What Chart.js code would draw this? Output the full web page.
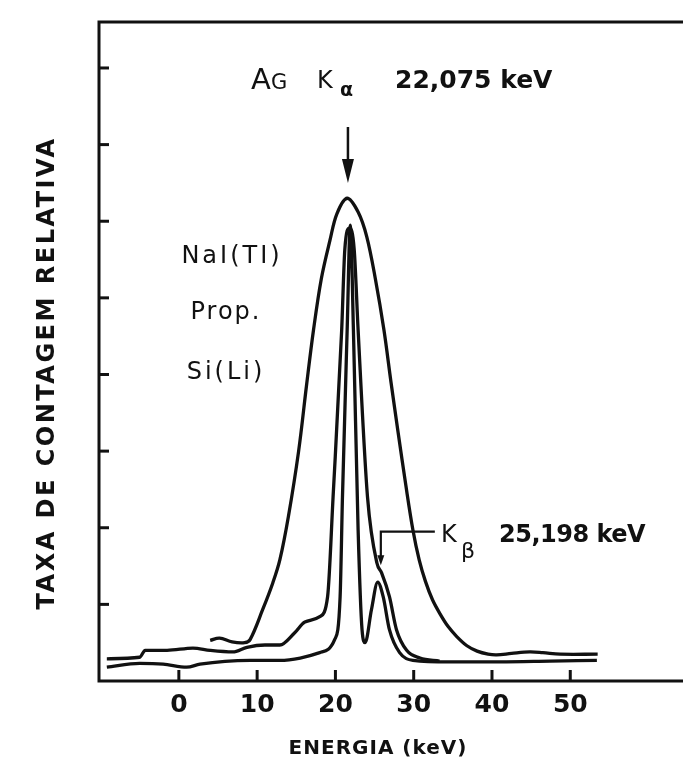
<!DOCTYPE html>
<html>
<head>
<meta charset="utf-8">
<script src="https://cdn.jsdelivr.net/npm/chart.js@4.4.1/dist/chart.umd.min.js"></script>
<style>
    body { margin: 0; background: #fff; }
    #wrap { width: 683px; height: 776px; }
</style>
</head>
<body>
<div id="wrap"><canvas id="spectrum" width="683" height="776"></canvas></div>
<script>
// energies in keV, counts in tick units (relative)
var nai_energy = [4.0, 5.2, 6.8, 8.4, 9.1, 10.7, 12.0, 12.9, 14.0, 15.3, 16.3, 17.2, 18.2, 19.3, 20.2, 21.5, 22.9, 24.0, 25.1, 26.2, 27.1, 28.0, 29.0, 29.9, 30.7, 31.5, 32.4, 33.4, 34.4, 35.5, 36.8, 38.1, 39.5, 40.6, 42.5, 44.8, 46.5, 48.7, 53.5];
var nai_counts = [0.53, 0.56, 0.51, 0.50, 0.54, 0.93, 1.28, 1.58, 2.15, 3.00, 3.85, 4.58, 5.25, 5.75, 6.10, 6.30, 6.12, 5.80, 5.25, 4.58, 3.90, 3.25, 2.55, 1.97, 1.58, 1.30, 1.06, 0.87, 0.71, 0.58, 0.46, 0.39, 0.35, 0.34, 0.36, 0.38, 0.37, 0.35, 0.35];

var prop_energy = [-9.2, -5.0, -4.3, -1.5, 1.8, 4.0, 6.9, 8.7, 11.0, 12.9, 14.8, 16.1, 18.0, 19.0, 19.7, 20.8, 21.2, 21.8, 22.4, 22.9, 24.1, 25.3, 25.9, 26.9, 27.8, 29.1, 30.8, 33.3];
var prop_counts = [0.29, 0.31, 0.40, 0.40, 0.43, 0.40, 0.38, 0.44, 0.47, 0.47, 0.63, 0.77, 0.84, 1.10, 2.40, 4.58, 5.63, 5.91, 5.63, 4.58, 2.40, 1.54, 1.41, 1.10, 0.67, 0.40, 0.30, 0.26];

var sili_energy = [-9.2, -5.0, -2.0, 1.0, 2.7, 9.1, 12.9, 15.5, 18.0, 19.9, 20.6, 20.9, 21.5, 21.9, 22.3, 22.9, 23.4, 23.8, 24.6, 25.4, 26.1, 26.9, 28.2, 29.9, 34.6, 41.0, 47.4, 53.4];
var sili_counts = [0.18, 0.23, 0.22, 0.18, 0.22, 0.27, 0.27, 0.30, 0.37, 0.54, 1.10, 2.40, 4.58, 5.95, 4.58, 1.97, 0.67, 0.50, 0.93, 1.29, 1.10, 0.67, 0.37, 0.27, 0.25, 0.25, 0.26, 0.27];

var x_ticks = [0, 10, 20, 30, 40, 50];
var y_ticks = [1, 2, 3, 4, 5, 6, 7, 8];

var ink = "#111";

function to_points(xs, ys) {
    return xs.map((x, i) => ({ x: x, y: ys[i] }));
}

function curve(label, xs, ys, smooth) {
    let ds = {
        label: label,
        data: to_points(xs, ys),
        borderColor: ink,
        borderWidth: 3.3,
        pointRadius: 0,
        fill: false
    };
    if (smooth) {
        ds.tension = 0.35;
    } else {
        ds.cubicInterpolationMode = "monotone";
    }
    return ds;
}

function stroke_line(ctx, x1, y1, x2, y2) {
    ctx.beginPath();
    ctx.moveTo(x1, y1);
    ctx.lineTo(x2, y2);
    ctx.stroke();
}

function text(ctx, str, x, y, font, align, spacing) {
    ctx.font = font;
    ctx.textAlign = align || "left";
    ctx.letterSpacing = spacing || "0px";
    ctx.fillText(str, x, y);
}

// frame, inward ticks, labels and notes
const decorations = {
    id: "decorations",
    afterDraw(chart) {
        const ctx = chart.ctx;
        const a = chart.chartArea;
        const xs = chart.scales.x;
        const ys = chart.scales.y;
        ctx.save();
        ctx.strokeStyle = ink;
        ctx.fillStyle = ink;
        ctx.lineWidth = 3;
        ctx.lineCap = "square";

        ctx.beginPath();
        ctx.moveTo(a.right, a.top);
        ctx.lineTo(a.left, a.top);
        ctx.lineTo(a.left, a.bottom);
        ctx.lineTo(a.right, a.bottom);
        ctx.stroke();

        ctx.lineCap = "butt";
        x_ticks.forEach(t => {
            let px = xs.getPixelForValue(t);
            stroke_line(ctx, px, a.bottom, px, a.bottom - 11);
        });
        y_ticks.forEach(t => {
            let py = ys.getPixelForValue(t);
            stroke_line(ctx, a.left, py, a.left + 10, py);
        });

        ctx.textBaseline = "middle";
        x_ticks.forEach(t => {
            text(ctx, String(t), xs.getPixelForValue(t), 705, "bold 25px 'DejaVu Sans'", "center");
        });
        text(ctx, "ENERGIA (keV)", 378, 749, "bold 20px 'DejaVu Sans'", "center", "1px");

        ctx.save();
        ctx.translate(48, 373);
        ctx.rotate(-Math.PI / 2);
        text(ctx, "TAXA DE CONTAGEM RELATIVA", 0, 0, "bold 24px 'DejaVu Sans'", "center", "2.5px");
        ctx.restore();

        // K alpha note
        ctx.textBaseline = "alphabetic";
        text(ctx, "A", 251, 89, "29px 'DejaVu Sans'");
        text(ctx, "G", 271, 89, "21px 'DejaVu Sans'");
        text(ctx, "K", 317, 88, "24px 'DejaVu Sans'");
        text(ctx, "α", 340, 96, "bold 19px 'DejaVu Sans'");
        text(ctx, "22,075 keV", 395, 88, "bold 25px 'DejaVu Sans'", "left", "0px");

        let ax = xs.getPixelForValue(21.6);
        let top = ys.getPixelForValue(7.23);
        let tip = ys.getPixelForValue(6.5);
        ctx.lineWidth = 2.5;
        stroke_line(ctx, ax, top, ax, tip - 14);
        ctx.beginPath();
        ctx.moveTo(ax - 6, tip - 24);
        ctx.lineTo(ax + 6, tip - 24);
        ctx.lineTo(ax, tip);
        ctx.closePath();
        ctx.fill();

        // detector names
        ctx.textBaseline = "middle";
        text(ctx, "NaI(TI)", 232, 257, "24px 'DejaVu Sans'", "center", "3px");
        text(ctx, "Prop.", 226, 313, "24px 'DejaVu Sans'", "center", "2px");
        text(ctx, "Si(Li)", 226, 373, "24px 'DejaVu Sans'", "center", "3px");

        // K beta note
        let bx = xs.getPixelForValue(25.8);
        let by = ys.getPixelForValue(1.95);
        let bt = ys.getPixelForValue(1.51);
        let ex = xs.getPixelForValue(32.7);
        ctx.lineWidth = 2.2;
        ctx.beginPath();
        ctx.moveTo(ex, by);
        ctx.lineTo(bx, by);
        ctx.lineTo(bx, bt - 6);
        ctx.stroke();
        ctx.beginPath();
        ctx.moveTo(bx - 3.5, bt - 10);
        ctx.lineTo(bx + 3.5, bt - 10);
        ctx.lineTo(bx, bt);
        ctx.closePath();
        ctx.fill();

        ctx.textBaseline = "alphabetic";
        text(ctx, "K", 441, 542, "24px 'DejaVu Sans'");
        text(ctx, "β", 461, 558, "22px 'DejaVu Sans'");
        text(ctx, "25,198 keV", 499, 542, "bold 24px 'DejaVu Sans'", "left", "-0.5px");

        ctx.restore();
    }
};

const ctx = document.getElementById("spectrum");
new Chart(ctx, {
    type: "line",
    data: {
        datasets: [
            curve("NaI(Tl)", nai_energy, nai_counts, true),
            curve("Prop.", prop_energy, prop_counts, false),
            curve("Si(Li)", sili_energy, sili_counts, false)
        ]
    },
    options: {
        responsive: false,
        animation: false,
        devicePixelRatio: 1,
        layout: {
            padding: { left: 99, top: 22, right: 0, bottom: 95 }
        },
        plugins: {
            legend: { display: false },
            tooltip: { enabled: false }
        },
        scales: {
            x: { type: "linear", min: -10.2, max: 64.4, display: false },
            y: { type: "linear", min: 0, max: 8.6, display: false }
        }
    },
    plugins: [decorations]
});
</script>
</body>
</html>
